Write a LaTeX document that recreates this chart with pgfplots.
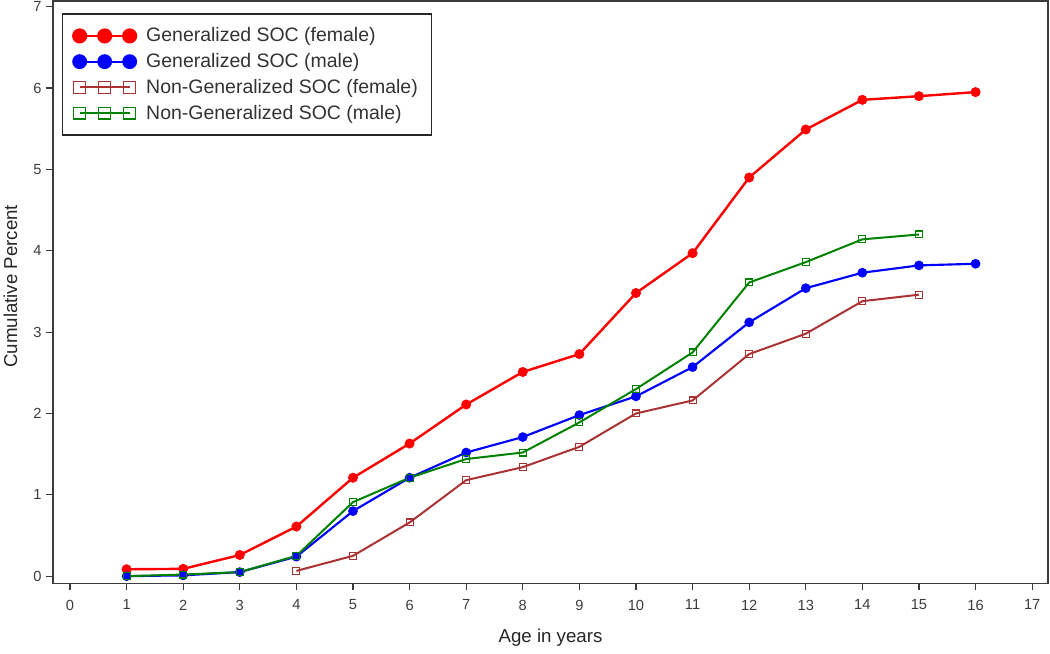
\documentclass[border=0pt]{standalone}
\usepackage{pgfplots}
\pgfplotsset{compat=1.18}
\usepackage{fontspec}
\setmainfont{Liberation Sans}
\definecolor{gfem}{RGB}{255,0,0}
\definecolor{gmal}{RGB}{0,0,255}
\definecolor{nfem}{RGB}{170,50,50}
\definecolor{nmal}{RGB}{0,130,0}
\definecolor{axgray}{RGB}{60,60,60}

\begin{document}
\begin{tikzpicture}
\begin{axis}[
  scale only axis,
  width=746pt, height=436.5pt,
  xmin=-0.3, xmax=17.28, ymin=-0.086, ymax=7.07,
  xtick={0,...,17}, ytick={0,...,7},
  tick align=outside, tick pos=left, major tick length=5pt,
  axis line style={axgray, line width=1pt},
  tick style={axgray, line width=0.9pt},
  ticklabel style={font=\fontsize{11}{13}\selectfont, text=axgray},
  xticklabel style={yshift=-4pt},
  /pgf/number format/assume math mode=true,
  xlabel={Age in years}, ylabel={Cumulative Percent},
  label style={font=\fontsize{14}{16}\selectfont, text=black!85},
  xlabel style={at={(axis description cs:0.5,0)}, anchor=center, yshift=-40.5pt},
  ylabel style={at={(axis description cs:0,0.51)}, anchor=center, yshift=32pt},
  legend style={at={(axis description cs:0.009,0.979)}, anchor=north west,
    draw=black!85, line width=1pt, font=\fontsize{14.6}{17}\selectfont,
    text=black!80, row sep=3.2pt, inner xsep=8pt, inner ysep=8.5pt},
  legend cell align=left,
  legend image code/.code={
    \draw[#1, mark repeat=1, mark phase=1, every mark/.append style={scale=1.7}]
      plot coordinates {(0pt,0pt) (18.75pt,0pt) (37.5pt,0pt)};
    \path (47pt,0pt);
  },
]
\addplot[gfem, line width=1.8pt, mark=*, mark size=2.8pt] coordinates {
  (1,0.085) (2,0.09) (3,0.26) (4,0.61) (5,1.21) (6,1.63) (7,2.11) (8,2.51)
  (9,2.73) (10,3.48) (11,3.97) (12,4.90) (13,5.49) (14,5.855) (15,5.90) (16,5.95)
};
\addplot[gmal, line width=1.6pt, mark=*, mark size=2.8pt] coordinates {
  (1,0) (2,0.01) (3,0.05) (4,0.24) (5,0.80) (6,1.21) (7,1.52) (8,1.71)
  (9,1.98) (10,2.21) (11,2.57) (12,3.12) (13,3.54) (14,3.73) (15,3.82) (16,3.84)
};
\addplot[nfem, line width=1.5pt, mark=square, mark size=2.6pt, mark options={line width=0.8pt}] coordinates {
  (4,0.065) (5,0.25) (6,0.66) (7,1.18) (8,1.34) (9,1.59) (10,2.00) (11,2.16)
  (12,2.73) (13,2.98) (14,3.38) (15,3.46)
};
\addplot[nmal, line width=1.5pt, mark=square, mark size=2.6pt, mark options={line width=0.8pt}] coordinates {
  (1,0) (2,0.02) (3,0.05) (4,0.25) (5,0.91) (6,1.21) (7,1.44) (8,1.52)
  (9,1.89) (10,2.30) (11,2.75) (12,3.61) (13,3.86) (14,4.14) (15,4.20)
};
\legend{Generalized SOC (female), Generalized SOC (male),
  Non-Generalized SOC (female), Non-Generalized SOC (male)}
\end{axis}
\pgfresetboundingbox
\path[use as bounding box] ([shift={(-39.75pt,-52.5pt)}]current axis.south west)
  rectangle ([shift={(1.5pt,0.75pt)}]current axis.north east);
\end{tikzpicture}
\end{document}
